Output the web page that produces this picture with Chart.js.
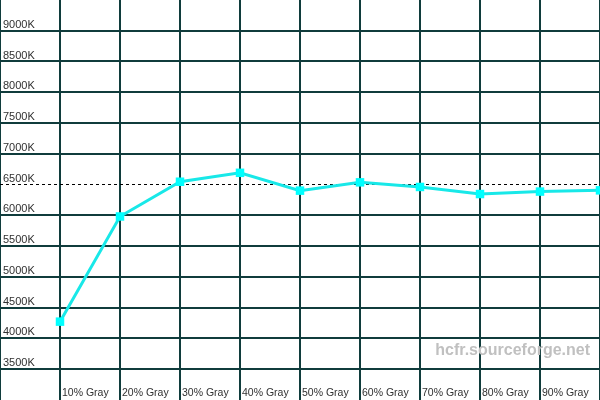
<!DOCTYPE html>
<html>
<head>
<meta charset="utf-8">
<script src="https://cdn.jsdelivr.net/npm/chart.js@4/dist/chart.umd.min.js"></script>
<style>
  html, body { margin: 0; padding: 0; background: #fff; }
  canvas { display: block; }
</style>
</head>
<body>
<canvas id="tempChart" width="600" height="400"></canvas>
<script>
// measured colour temperature per gray step
const grayLevels = [10, 20, 30, 40, 50, 60, 70, 80, 90, 100]
const colorTemps = [4270, 5980, 6545, 6690, 6400, 6535, 6460, 6345, 6385, 6405]
const xTickLabels = ['10% Gray', '20% Gray', '30% Gray', '40% Gray', '50% Gray',
                     '60% Gray', '70% Gray', '80% Gray', '90% Gray']
const targetTemp = 6500
const tempMin = 3500
const tempMax = 9500
const tempStep = 500

const gridColor = '#103c3c'
const textColor = '#303030'

const watermark = {
  id: 'watermark',
  afterDatasetsDraw(chart) {
    const { ctx, chartArea } = chart
    ctx.save()
    ctx.font = 'bold 16px "Liberation Sans", Arial, sans-serif'
    ctx.fillStyle = '#c0c0c0'
    ctx.textAlign = 'right'
    ctx.textBaseline = 'alphabetic'
    ctx.fillText('hcfr.sourceforge.net', chartArea.right - 10, chartArea.bottom - 14)
    ctx.restore()
  }
}

const ctx = document.getElementById('tempChart').getContext('2d')
new Chart(ctx, {
  type: 'line',
  data: {
    datasets: [{
      data: grayLevels.map((g, i) => ({ x: g, y: colorTemps[i] })),
      borderColor: '#18e8e8',
      borderWidth: 3,
      tension: 0,
      pointStyle: 'rect',
      pointRadius: 6,
      pointBorderWidth: 0,
      pointBackgroundColor: '#00ffff'
    }, {
      data: [{ x: 0, y: targetTemp }, { x: 100, y: targetTemp }],
      borderColor: '#000000',
      borderWidth: 1,
      borderDash: [3, 3],
      pointRadius: 0
    }]
  },
  plugins: [watermark],
  options: {
    responsive: false,
    animation: false,
    devicePixelRatio: 1,
    layout: { padding: 0, autoPadding: false },
    plugins: {
      legend: { display: false },
      tooltip: { enabled: false }
    },
    scales: {
      x: {
        type: 'linear',
        position: 'bottom',
        min: 0,
        max: 100,
        afterFit: (scale) => {
          scale.height = 31
          scale.paddingLeft = 0
          scale.paddingRight = 0
        },
        grid: {
          color: gridColor,
          lineWidth: 2,
          drawTicks: true,
          tickLength: 31
        },
        border: { display: true, color: gridColor, width: 2 },
        ticks: {
          stepSize: 10,
          autoSkip: false,
          maxRotation: 0,
          align: 'start',
          labelOffset: 2,
          padding: -13,
          color: textColor,
          font: { family: '"Liberation Sans", Arial, sans-serif', size: 10.5 },
          callback: (value) => {
            const i = grayLevels.indexOf(value)
            return i >= 0 && i < xTickLabels.length ? xTickLabels[i] : ''
          }
        }
      },
      y: {
        min: tempMin,
        max: tempMax,
        afterFit: (scale) => {
          scale.width = 0
          scale.paddingTop = 0
          scale.paddingBottom = 0
        },
        grid: {
          lineWidth: 2,
          drawTicks: false,
          color: (c) => (c.tick && (c.tick.value === targetTemp || c.tick.value === tempMax)) ? 'rgba(0,0,0,0)' : gridColor
        },
        border: { display: false },
        ticks: {
          stepSize: tempStep,
          autoSkip: false,
          mirror: true,
          padding: 3,
          labelOffset: -6,
          color: textColor,
          font: { family: '"Liberation Sans", Arial, sans-serif', size: 11 },
          callback: (value) => value >= tempMax ? '' : value + 'K'
        }
      }
    }
  }
})
</script>
</body>
</html>
